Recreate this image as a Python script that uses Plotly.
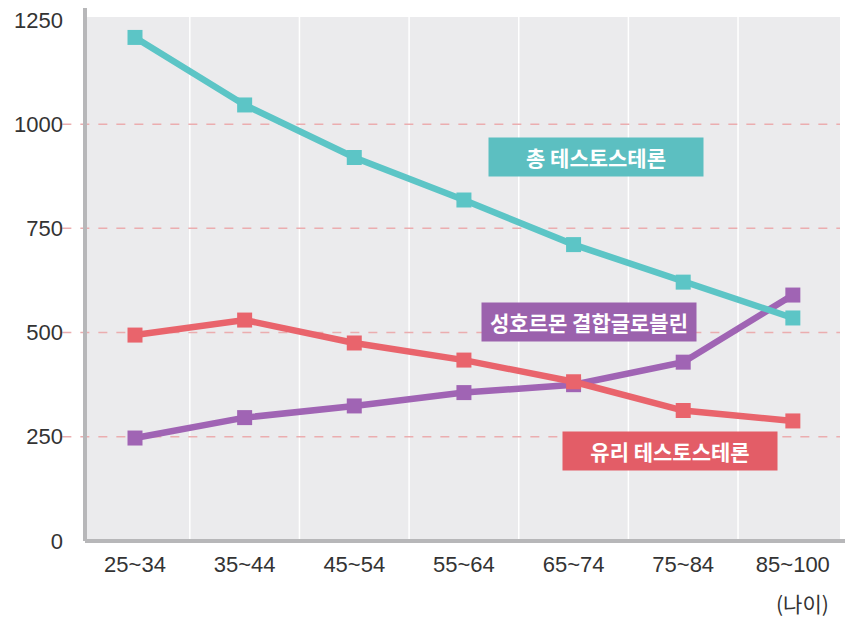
import plotly.graph_objects as go

# Age groups and hormone levels
age_groups = ["25~34", "35~44", "45~54", "55~64", "65~74", "75~84", "85~100"]
total_testosterone = [1208, 1046, 920, 818, 711, 621, 535]
free_testosterone = [494, 530, 475, 434, 382, 313, 288]
shbg = [247, 296, 324, 356, 375, 429, 590]
y_ticks = [0, 250, 500, 750, 1000, 1250]
grid_levels = [250, 500, 750, 1000]

TEAL = "#5cc5c6"
PURPLE = "#a064b4"
RED = "#e9646c"

xs = list(range(len(age_groups)))

fig = go.Figure()

series = [
    (shbg, PURPLE),
    (free_testosterone, RED),
    (total_testosterone, TEAL),
]
for values, color in series:
    fig.add_trace(go.Scatter(
        x=xs, y=values, mode="lines+markers",
        line=dict(color=color, width=6.5),
        marker=dict(symbol="square", size=15, color=color),
        hoverinfo="skip", showlegend=False,
    ))

shapes = []
# white separators between age groups
for i in range(len(age_groups) - 1):
    shapes.append(dict(type="line", xref="x", yref="paper",
                       x0=i + 0.5, x1=i + 0.5, y0=0, y1=1,
                       line=dict(color="white", width=1.5), layer="below"))
# dashed horizontal guides
for lv in grid_levels:
    shapes.append(dict(type="line", xref="paper", yref="y",
                       x0=-0.03, x1=1, y0=lv, y1=lv,
                       line=dict(color="#ebadaf", width=1.5, dash="dash"),
                       layer="below"))
# axis frame lines
shapes.append(dict(type="line", xref="paper", yref="paper",
                   x0=0, x1=0, y0=0, y1=1.017,
                   line=dict(color="#b7b7b9", width=4)))
shapes.append(dict(type="line", xref="paper", yref="paper",
                   x0=0, x1=1.01, y0=0, y1=0,
                   line=dict(color="#b7b7b9", width=4)))

label_font = "Noto Sans CJK KR"
annotations = [
    dict(text="총 테스토스테론", x=4.2, y=921, bgcolor="#5cbfc1"),
    dict(text="성호르몬 결합글로블린", x=4.14, y=525, bgcolor="#9b62ad"),
    dict(text="유리 테스토스테론", x=4.88, y=216, bgcolor="#e35d67"),
]
for a in annotations:
    a.update(xref="x", yref="y", showarrow=False, width=214, height=38,
             font=dict(family=label_font, size=21, color="white",
                       weight="bold"),
             borderpad=0)
annotations.append(dict(text="(나이)", xref="paper", yref="paper",
                        x=0.988, y=-0.118, xanchor="right", yanchor="middle",
                        showarrow=False,
                        font=dict(family=label_font, size=21, color="#333333")))

fig.update_layout(
    width=845, height=617,
    margin=dict(l=85, r=5, t=17, b=76),
    paper_bgcolor="white",
    plot_bgcolor="#ebebed",
    shapes=shapes,
    annotations=annotations,
    xaxis=dict(
        range=[-0.456, 6.43], tickvals=xs, ticktext=age_groups,
        showgrid=False, zeroline=False, showline=False, ticks="",
        tickfont=dict(family="Liberation Sans", size=22, color="#333333"),
        ticklabelstandoff=8,
    ),
    yaxis=dict(
        range=[0, 1257], tickvals=y_ticks,
        showgrid=False, zeroline=False, showline=False, ticks="",
        tickfont=dict(family="Liberation Sans", size=22, color="#333333"),
        ticklabelstandoff=21,
    ),
)

fig.write_html("out.html")
